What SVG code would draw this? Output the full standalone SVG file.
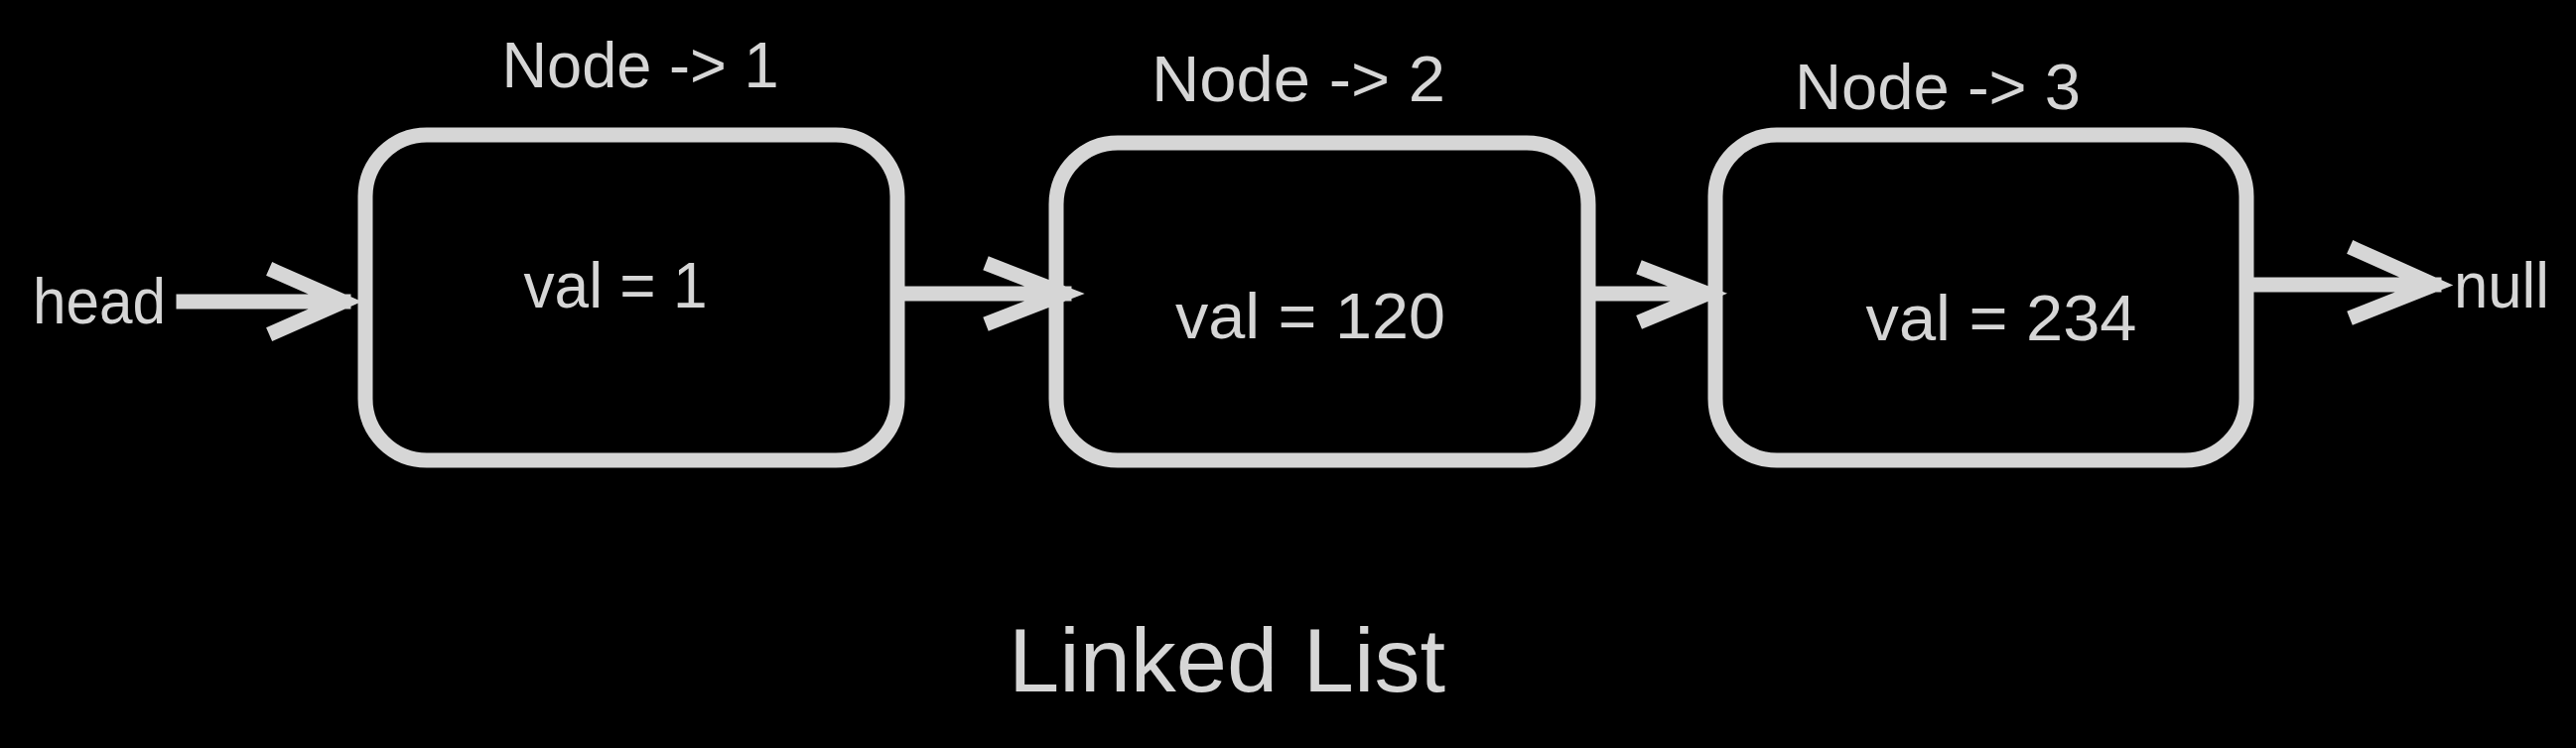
<svg xmlns="http://www.w3.org/2000/svg" width="2595" height="754" viewBox="0 0 2595 754">
  <style>
    .box { fill: none; stroke: #d6d6d6; stroke-width: 15; }
    .edge { fill: none; stroke: #d6d6d6; stroke-width: 15; stroke-linecap: square; stroke-linejoin: miter; }
    .t { font-family: "Liberation Sans", Arial, sans-serif; fill: #d6d6d6; text-anchor: middle; }
    .lbl { font-size: 64px; }
    .title { font-size: 90px; }
  </style>
  <rect x="0" y="0" width="2595" height="754" fill="#000000"/>

  <g id="connectors">
    <path class="edge" d="M185,304 H346 M278,274 L346,304 L278,334"/>
    <path class="edge" d="M912,296 H1072 M1000,268 L1072,296 L1000,324"/>
    <path class="edge" d="M1607,296 H1720 M1658,272 L1720,296 L1658,322"/>
    <path class="edge" d="M2271,287 H2452 M2374,252 L2452,287 L2374,318"/>
  </g>

  <g id="head">
    <text class="t lbl" x="100" y="326" textLength="134" lengthAdjust="spacingAndGlyphs">head</text>
  </g>

  <g id="node1">
    <rect class="box" x="368" y="136" width="536" height="328" rx="62" ry="62"/>
    <text class="t lbl" x="620" y="310" textLength="185" lengthAdjust="spacingAndGlyphs">val = 1</text>
    <text class="t lbl" x="645" y="88" textLength="279" lengthAdjust="spacingAndGlyphs">Node -&gt; 1</text>
  </g>

  <g id="node2">
    <rect class="box" x="1064" y="144" width="536" height="320" rx="62" ry="62"/>
    <text class="t lbl" x="1320" y="341" textLength="272" lengthAdjust="spacingAndGlyphs">val = 120</text>
    <text class="t lbl" x="1308" y="102" textLength="296" lengthAdjust="spacingAndGlyphs">Node -&gt; 2</text>
  </g>

  <g id="node3">
    <rect class="box" x="1728" y="136" width="535" height="328" rx="62" ry="62"/>
    <text class="t lbl" x="2016" y="343" textLength="273" lengthAdjust="spacingAndGlyphs">val = 234</text>
    <text class="t lbl" x="1952" y="110" textLength="288" lengthAdjust="spacingAndGlyphs">Node -&gt; 3</text>
  </g>

  <g id="null">
    <text class="t lbl" x="2520" y="310" textLength="96" lengthAdjust="spacingAndGlyphs">null</text>
  </g>

  <g id="title">
    <text class="t title" x="1236" y="697" textLength="440" lengthAdjust="spacingAndGlyphs">Linked List</text>
  </g>
</svg>
